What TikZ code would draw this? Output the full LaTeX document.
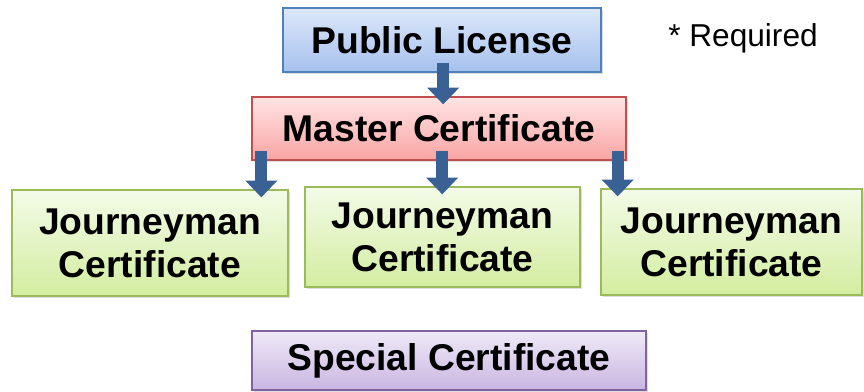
\documentclass[tikz,border=0pt]{standalone}
\usepackage{fontspec}
\setmainfont{Liberation Sans}
\usetikzlibrary{arrows.meta,shadows}
\definecolor{bluebd}{HTML}{4F81BD}
\definecolor{bluetop}{HTML}{DDE8F9}
\definecolor{bluebot}{HTML}{A6C1EE}
\definecolor{redbd}{HTML}{C0504D}
\definecolor{redtop}{HTML}{FFE4E4}
\definecolor{redbot}{HTML}{F8A4A3}
\definecolor{greenbd}{HTML}{9BBB59}
\definecolor{greentop}{HTML}{F3FBE8}
\definecolor{greenbot}{HTML}{D3EDA0}
\definecolor{purplebd}{HTML}{8064A2}
\definecolor{purpletop}{HTML}{EFE9F7}
\definecolor{purplebot}{HTML}{C9B6E2}
\definecolor{arrowbd}{HTML}{3A6194}
\begin{document}
\begin{tikzpicture}
[x=0.025cm,y=-0.025cm,
every node/.style={rectangle,inner sep=0pt,align=center,font=\bfseries\fontsize{26.5}{30.5}\selectfont},
box/.style={draw=#1bd,line width=0.9pt,top color=#1top,bottom color=#1bot,
  drop shadow={opacity=0.25,shadow xshift=1.5pt,shadow yshift=-1.5pt}},
flow/.style={draw=arrowbd,line width=0.3cm,-{Triangle[width=0.78cm,length=0.42cm]},shorten <=-0.25cm,shorten >=-0.2cm}]
\useasboundingbox (0,0) rectangle (864,392);
\node[box=blue,minimum width=7.95cm,minimum height=1.6cm] (pub) at (442,40) {Public License};
\node[box=red,minimum width=9.35cm,minimum height=1.575cm] (mas) at (439,128.5) {Master Certificate};
\node[box=green,minimum width=6.9cm,minimum height=2.65cm] (j1) at (150,243) {Journeyman\\Certificate};
\node[box=green,minimum width=6.875cm,minimum height=2.5cm] (j2) at (442.5,237) {Journeyman\\Certificate};
\node[box=green,minimum width=6.525cm,minimum height=2.65cm] (j3) at (731.5,242) {Journeyman\\Certificate};
\node[box=purple,minimum width=9.85cm,minimum height=1.475cm] (spe) at (449,360.5) {Special Certificate};
\node[font=\fontsize{22.5}{26}\selectfont] (req) at (743,38) {* Required};
\draw[flow] ([xshift=0.03cm]pub.south) -- ([xshift=0.03cm]pub.south |- mas.north);
\draw[flow] ([xshift=0.25cm]mas.south west) -- ([xshift=0.25cm]mas.south west |- j1.north);
\draw[flow] ([xshift=0.08cm]mas.south) -- ([xshift=0.08cm]mas.south |- j2.north);
\draw[flow] ([xshift=-0.225cm]mas.south east) -- ([xshift=-0.225cm]mas.south east |- j3.north);
\end{tikzpicture}
\end{document}
